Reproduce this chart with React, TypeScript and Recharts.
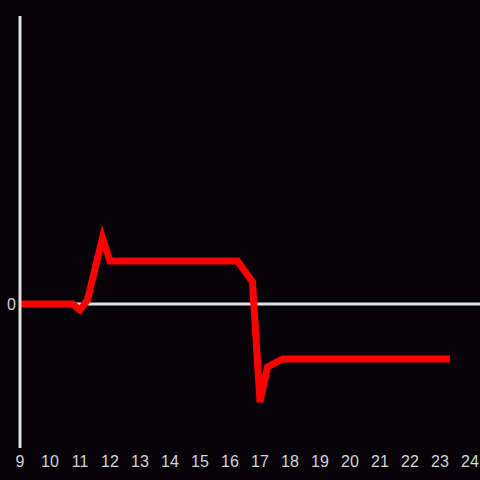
import React from 'react';
import { LineChart, Line, XAxis, YAxis, ReferenceLine } from 'recharts';

const hours = [9, 10.75, 11, 11.25, 11.75, 12, 16.25, 16.75, 17, 17.25, 17.75, 23.33];
const values = [0, 0, -0.06, 0.04, 0.66, 0.43, 0.43, 0.22, -0.98, -0.63, -0.55, -0.55];
const xTicks = [9, 10, 11, 12, 13, 14, 15, 16, 17, 18, 19, 20, 21, 22, 23, 24];
const yTicks = [0];

const data = hours.map((h, i) => ({ h, v: values[i] }));

const tickStyle = { fill: '#d4d4d4', fontSize: 16, fontFamily: 'Liberation Sans, Arial, sans-serif' };

export default function App() {
  return (
    <div style={{ position: 'fixed', left: 0, top: 0, width: 480, height: 480, background: '#050307' }}>
      <LineChart width={480} height={480} data={data} margin={{ top: 16, right: 0, left: 0, bottom: 0 }}>
        <XAxis
          dataKey="h"
          type="number"
          domain={[9, 24.3333]}
          ticks={xTicks}
          axisLine={false}
          tickLine={false}
          height={32}
          fontSize={16}
          tick={tickStyle}
          allowDataOverflow
        />
        <YAxis
          type="number"
          domain={[-1.44, 2.88]}
          ticks={yTicks}
          width={20}
          tickLine={false}
          tickSize={2}
          tickMargin={2}
          fontSize={16}
          axisLine={{ stroke: '#e0e0e0', strokeWidth: 3 }}
          tick={tickStyle}
          allowDataOverflow
        />
        <ReferenceLine y={0} stroke="#e0e0e0" strokeWidth={3} />
        <Line
          type="linear"
          dataKey="v"
          stroke="#ff0000"
          strokeWidth={7}
          dot={false}
          isAnimationActive={false}
          strokeLinejoin="miter"
          strokeLinecap="butt"
        />
      </LineChart>
    </div>
  );
}
